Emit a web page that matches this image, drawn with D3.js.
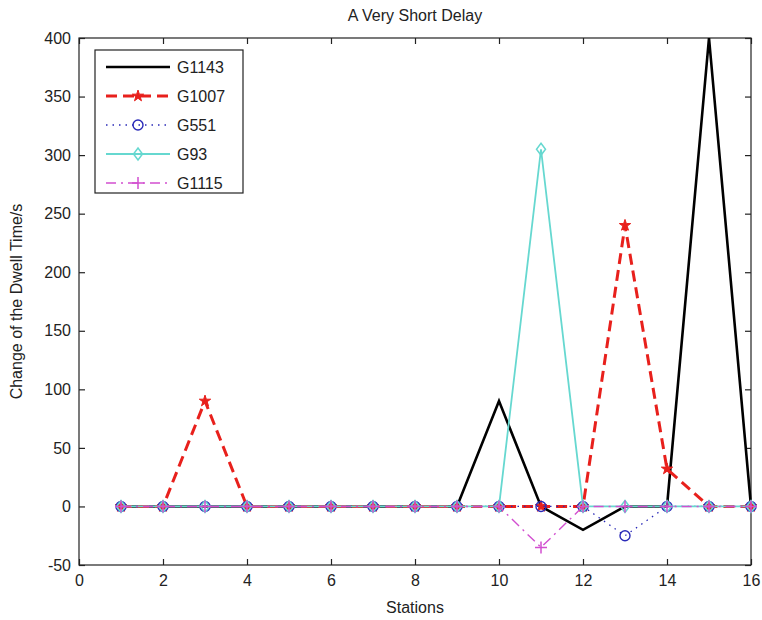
<!DOCTYPE html>
<html>
<head>
<meta charset="utf-8">
<script src="https://cdn.jsdelivr.net/npm/d3@7"></script>
<style>
  body { margin: 0; background: #fff; }
  text { font-family: "Liberation Sans", Arial, sans-serif; fill: #222; }
</style>
</head>
<body>
<div id="chart"></div>
<script>
// data
var stations = [1, 2, 3, 4, 5, 6, 7, 8, 9, 10, 11, 12, 13, 14, 15, 16];
var g1143 = [0, 0, 0, 0, 0, 0, 0, 0, 0, 90, 0, -20, 0, 0, 400, 0];
var g1007 = [0, 0, 90, 0, 0, 0, 0, 0, 0, 0, 0, 0, 240, 32, 0, 0];
var g551 = [0, 0, 0, 0, 0, 0, 0, 0, 0, 0, 0, 0, -25, 0, 0, 0];
var g93 = [0, 0, 0, 0, 0, 0, 0, 0, 0, 0, 305, 0, 0, 0, 0, 0];
var g1115 = [0, 0, 0, 0, 0, 0, 0, 0, 0, 0, -35, 0, 0, 0, 0, 0];
var xTicks = [0, 2, 4, 6, 8, 10, 12, 14, 16];
var yTicks = [-50, 0, 50, 100, 150, 200, 250, 300, 350, 400];

var series = [
  { name: 'G1143', values: g1143, color: '#000000', width: 2.6, dash: null, marker: null },
  { name: 'G1007', values: g1007, color: '#e8201c', width: 3, dash: '11,6', marker: 'star' },
  { name: 'G551', values: g551, color: '#2a2ab8', width: 1.3, dash: '1.5,5', marker: 'circle' },
  { name: 'G93', values: g93, color: '#66d8d0', width: 1.8, dash: null, marker: 'diamond' },
  { name: 'G1115', values: g1115, color: '#d24fd0', width: 1.4, dash: '10,5,2,5', marker: 'plus' }
];

var width = 762, height = 620;
var margin = { left: 79, right: 11, top: 38, bottom: 55 };

var svg = d3.select('#chart').append('svg')
  .attr('width', width)
  .attr('height', height);

var x = d3.scaleLinear().domain([0, 16]).range([margin.left, width - margin.right]);
var y = d3.scaleLinear().domain([-50, 400]).range([height - margin.bottom, margin.top]);

// axes box
svg.append('rect')
  .attr('x', x(0)).attr('y', y(400))
  .attr('width', x(16) - x(0)).attr('height', y(-50) - y(400))
  .attr('fill', '#fff').attr('stroke', '#222').attr('stroke-width', 1.2);

var fmt = function (d) { return String(d); };
var bottomAxis = d3.axisBottom(x).tickValues(xTicks).tickFormat(fmt).tickSizeInner(-6).tickSizeOuter(0).tickPadding(10);
var leftAxis = d3.axisLeft(y).tickValues(yTicks).tickFormat(fmt).tickSizeInner(-6).tickSizeOuter(0).tickPadding(8);
var topAxis = d3.axisTop(x).tickValues(xTicks).tickSizeInner(-6).tickSizeOuter(0).tickFormat('');
var rightAxis = d3.axisRight(y).tickValues(yTicks).tickSizeInner(-6).tickSizeOuter(0).tickFormat('');

function styleAxis(g) {
  g.select('.domain').remove();
  g.selectAll('line').attr('stroke', '#222').attr('stroke-width', 1.2);
  g.selectAll('text').attr('font-size', 16).attr('fill', '#222')
    .style('font-family', '"Liberation Sans", Arial, sans-serif');
}

svg.append('g').attr('transform', 'translate(0,' + y(-50) + ')').call(bottomAxis).call(styleAxis);
svg.append('g').attr('transform', 'translate(' + x(0) + ',0)').call(leftAxis).call(styleAxis);
svg.append('g').attr('transform', 'translate(0,' + y(400) + ')').call(topAxis).call(styleAxis);
svg.append('g').attr('transform', 'translate(' + x(16) + ',0)').call(rightAxis).call(styleAxis);

// markers
function drawMarker(g, type, color, cx, cy) {
  if (type === 'star') {
    g.append('path')
      .attr('d', d3.symbol().type(d3.symbolStar).size(40)())
      .attr('transform', 'translate(' + cx + ',' + cy + ')')
      .attr('fill', color).attr('stroke', color).attr('stroke-width', 1);
  } else if (type === 'circle') {
    g.append('circle')
      .attr('cx', cx).attr('cy', cy).attr('r', 5)
      .attr('fill', 'none').attr('stroke', color).attr('stroke-width', 1.4);
  } else if (type === 'diamond') {
    g.append('path')
      .attr('d', 'M0,-6L4.5,0L0,6L-4.5,0Z')
      .attr('transform', 'translate(' + cx + ',' + cy + ')')
      .attr('fill', 'none').attr('stroke', color).attr('stroke-width', 1.5);
  } else if (type === 'plus') {
    g.append('path')
      .attr('d', 'M-6,0H6M0,-6V6')
      .attr('transform', 'translate(' + cx + ',' + cy + ')')
      .attr('fill', 'none').attr('stroke', color).attr('stroke-width', 1.5);
  }
}

var line = d3.line()
  .x(function (d, i) { return x(stations[i]); })
  .y(function (d) { return y(d); });

var plot = svg.append('g');
series.forEach(function (s) {
  var g = plot.append('g');
  g.append('path')
    .attr('d', line(s.values))
    .attr('fill', 'none')
    .attr('stroke', s.color)
    .attr('stroke-width', s.width)
    .attr('stroke-dasharray', s.dash)
    .attr('stroke-linejoin', 'miter');
  if (s.marker) {
    s.values.forEach(function (v, i) {
      drawMarker(g, s.marker, s.color, x(stations[i]), y(v));
    });
  }
});

// legend
var legend = svg.append('g');
legend.append('rect')
  .attr('x', 95).attr('y', 50).attr('width', 148).attr('height', 143)
  .attr('fill', '#fff').attr('stroke', '#222').attr('stroke-width', 1.2);

series.forEach(function (s, i) {
  var ly = 67 + i * 29;
  legend.append('line')
    .attr('x1', 106).attr('x2', 170).attr('y1', ly).attr('y2', ly)
    .attr('stroke', s.color)
    .attr('stroke-width', s.width)
    .attr('stroke-dasharray', s.dash);
  if (s.marker) drawMarker(legend, s.marker, s.color, 138, ly);
  legend.append('text')
    .attr('x', 177).attr('y', ly + 6)
    .attr('font-size', 16)
    .text(s.name);
});

// titles
svg.append('text')
  .attr('x', (x(0) + x(16)) / 2).attr('y', 21)
  .attr('text-anchor', 'middle').attr('font-size', 16)
  .text('A Very Short Delay');

svg.append('text')
  .attr('x', (x(0) + x(16)) / 2).attr('y', 613)
  .attr('text-anchor', 'middle').attr('font-size', 16)
  .text('Stations');

svg.append('text')
  .attr('transform', 'translate(22,' + ((y(-50) + y(400)) / 2) + ') rotate(-90)')
  .attr('text-anchor', 'middle').attr('font-size', 16)
  .text('Change of the Dwell Time/s');
</script>
</body>
</html>
